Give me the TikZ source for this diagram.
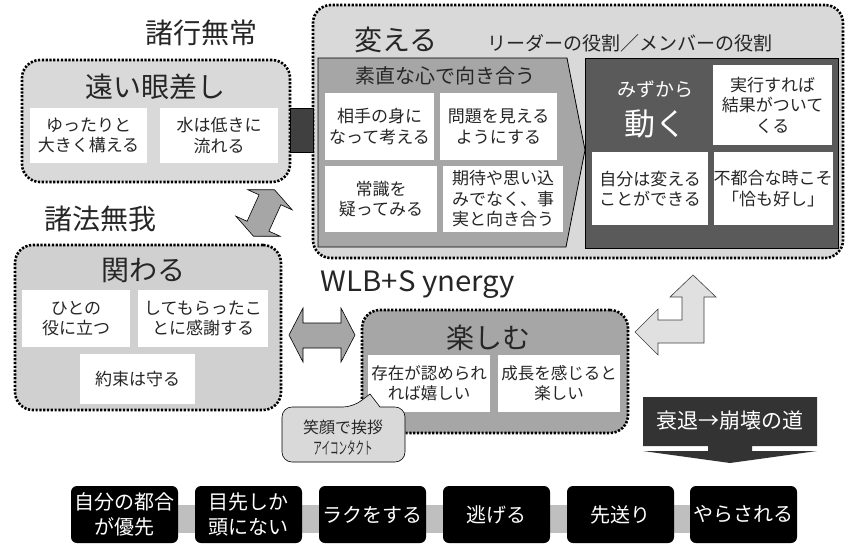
\documentclass[tikz,border=0pt]{standalone}
\usepackage{fontspec}
\usepackage{graphicx}
\setmainfont{Noto Sans CJK JP}
\definecolor{lgray}{HTML}{D9D9D9}
\definecolor{cgray}{HTML}{D0D0D0}
\definecolor{mgray}{HTML}{A6A6A6}
\definecolor{dgray}{HTML}{5A5A5A}
\definecolor{cgraydk}{HTML}{404040}
\definecolor{lgarrow}{HTML}{E0E0E0}
\definecolor{decl}{HTML}{333333}
\definecolor{bar}{HTML}{BFBFBF}
\definecolor{txt}{HTML}{262626}
\begin{document}
\begin{tikzpicture}[x=1pt,y=-1pt,
  dotbox/.style={draw=black, line width=2.6pt, dash pattern=on 2.2pt off 1.6pt, rounded corners=18pt, inner sep=0pt},
  wbox/.style={fill=white, inner sep=0pt, align=center, text=txt, font=\fontsize{17}{20.5}\selectfont},
  bbox/.style={fill=black, rounded corners=6pt, text=white, align=center, inner sep=0pt,
     font=\fontsize{20}{25}\selectfont, minimum width=107pt, minimum height=57pt},
  ttl/.style={font=\fontsize{28}{32}\selectfont, text=txt, inner sep=0pt},
  arr/.style={draw=black, line width=0.6pt, fill=mgray},
]
\useasboundingbox[fill=white] (0,0) rectangle (845,550);

% ---------- headings
\node[ttl] (h1) at (201,33) {諸行無常};
\node[ttl] (h2) at (100,219) {諸法無我};
\node[ttl, font=\fontsize{28}{30}\selectfont] (wlb) at (418,285) {\scalebox{1.05}[1]{WLB+S ynergy}};

% ---------- box A : 遠い眼差し
\node[dotbox, fill=lgray, minimum width=268pt, minimum height=122pt] (A) at (156,121) {};
\node[ttl] (At) at (155,87) {遠い眼差し};
\node[wbox, minimum width=117pt, minimum height=55pt] (A1) at (88.5,135.5) {ゆったりと\\大きく構える};
\node[wbox, minimum width=118pt, minimum height=55pt] (A2) at (219,135.5) {水は低きに\\流れる};

% ---------- box B : 変える
\node[dotbox, fill=lgray, minimum width=530pt, minimum height=253pt] (B) at (578,131.5) {};
\node[ttl] (Bt) at (396,40) {変える};
\node[inner sep=0pt, text=txt, font=\fontsize{19}{22}\selectfont] (Br) at (630,43) {リーダーの役割／メンバーの役割};
\draw[draw=black, line width=0.8pt, fill=mgray] (318,58) -- (567,58) -- (585,150) -- (566,247) -- (318,247) -- cycle;
\node[inner sep=0pt, text=txt, font=\fontsize{20}{24}\selectfont] (Pt) at (445,76) {素直な心で向き合う};
\node[wbox, minimum width=109pt, minimum height=67pt] (B1) at (379.5,126.5) {相手の身に\\なって考える};
\node[wbox, minimum width=117pt, minimum height=67pt] (B2) at (498.5,126.5) {問題を見える\\ようにする};
\node[wbox, minimum width=112pt, minimum height=66pt] (B3) at (381,199) {常識を\\疑ってみる};
\node[wbox, minimum width=120pt, minimum height=66pt] (B4) at (503,199) {期待や思い込\\みでなく、事\\実と向き合う};
\node[draw=black, line width=0.8pt, fill=dgray, minimum width=253pt, minimum height=190pt, inner sep=0pt] (D) at (711.5,153) {};
\node[inner sep=0pt, text=white, font=\fontsize{19}{22}\selectfont] (D0) at (655,89) {みずから};
\node[inner sep=0pt, text=white, font=\fontsize{31}{34}\selectfont] (D00) at (655,124) {動く};
\node[wbox, minimum width=119pt, minimum height=80pt] (D1) at (772.5,105) {実行すれば\\結果がついて\\くる};
\node[wbox, minimum width=116pt, minimum height=73pt] (D2) at (650,188.5) {自分は変える\\ことができる};
\node[wbox, minimum width=118pt, minimum height=73pt] (D3) at (773,188.5) {不都合な時こそ\\「恰も好し」};

% connector between A and B
\draw[draw=black, line width=0.5pt, fill=cgraydk] (290,108) rectangle (313,152);

% ---------- box C : 関わる
\node[dotbox, fill=cgray, minimum width=266pt, minimum height=165pt] (C) at (148,327.5) {};
\node[ttl] (Ct) at (143.5,270) {関わる};
\node[wbox, minimum width=108pt, minimum height=57pt] (C1) at (76,318.5) {ひとの\\役に立つ};
\node[wbox, minimum width=130pt, minimum height=57pt] (C2) at (203,318.5) {してもらったこ\\とに感謝する};
\node[wbox, minimum width=115pt, minimum height=50pt] (C3) at (137.5,379) {約束は守る};

% ---------- box E : 楽しむ
\node[dotbox, fill=mgray, minimum width=266pt, minimum height=123pt] (E) at (495,371.5) {};
\node[ttl] (Et) at (488,338) {楽しむ};
\node[wbox, minimum width=122pt, minimum height=57pt, font=\fontsize{16.5}{20}\selectfont] (E1) at (429,383.5) {存在が認められ\\れば嬉しい};
\node[wbox, minimum width=122pt, minimum height=57pt, font=\fontsize{16.5}{20}\selectfont] (E2) at (559,383.5) {成長を感じると\\楽しい};

% speech bubble
\draw[draw=black, line width=0.6pt, fill=lgray] (282,434) [rounded corners=10pt] -- (282,407) -- (353,407) [sharp corners] -- (370,394) -- (380,407) [rounded corners=10pt] -- (405,407) -- (405,462) -- (282,462) -- cycle;
\node[inner sep=0pt, text=txt, font=\fontsize{16}{19}\selectfont] (S1) at (343,427) {笑顔で挨拶};
\node[inner sep=0pt, text=txt, font=\fontsize{17}{18}\selectfont] (S2) at (343,448) {\scalebox{0.5}[1]{アイコンタクト}};

% ---------- arrows
\begin{scope}[shift={(264,213)}, rotate=65.6]
  \draw[arr] (25.5,0) -- (14.5,24.4) -- (14.5,12) -- (-14.5,12) -- (-14.5,24.4) -- (-25.5,0)
     -- (-14.5,-24.4) -- (-14.5,-12) -- (14.5,-12) -- (14.5,-24.4) -- cycle;
\end{scope}
\draw[arr] (289,335) -- (303,308) -- (303,323) -- (341,323) -- (341,308) -- (355,335)
   -- (341,362) -- (341,348) -- (303,348) -- (303,362) -- cycle;
\draw[draw=cgraydk, line width=0.6pt, fill=lgarrow] (693,275) -- (716,297) -- (704,297) -- (704,343)
   -- (658,343) -- (658,355) -- (635,332) -- (658,309) -- (658,320) -- (682,320) -- (682,297) -- (670,297) -- cycle;
\fill[decl] (643,397) -- (817,397) -- (817,446) -- (752,446) -- (752,451) -- (817,451) -- (730,463)
   -- (643,451) -- (708,451) -- (708,446) -- (643,446) -- cycle;
\node[inner sep=0pt, text=white, font=\fontsize{21}{24}\selectfont] (decline) at (730,421) {衰退→崩壊の道};

% ---------- bottom row
\fill[bar] (100,505) rectangle (760,533);
\node[bbox] (k1) at (124.5,514.5) {自分の都合\\が優先};
\node[bbox] (k2) at (248.5,514.5) {目先しか\\頭にない};
\node[bbox] (k3) at (372.5,514.5) {ラクをする};
\node[bbox] (k4) at (496.5,514.5) {逃げる};
\node[bbox] (k5) at (620.5,514.5) {先送り};
\node[bbox] (k6) at (743.5,514.5) {やらされる};
\end{tikzpicture}
\end{document}
